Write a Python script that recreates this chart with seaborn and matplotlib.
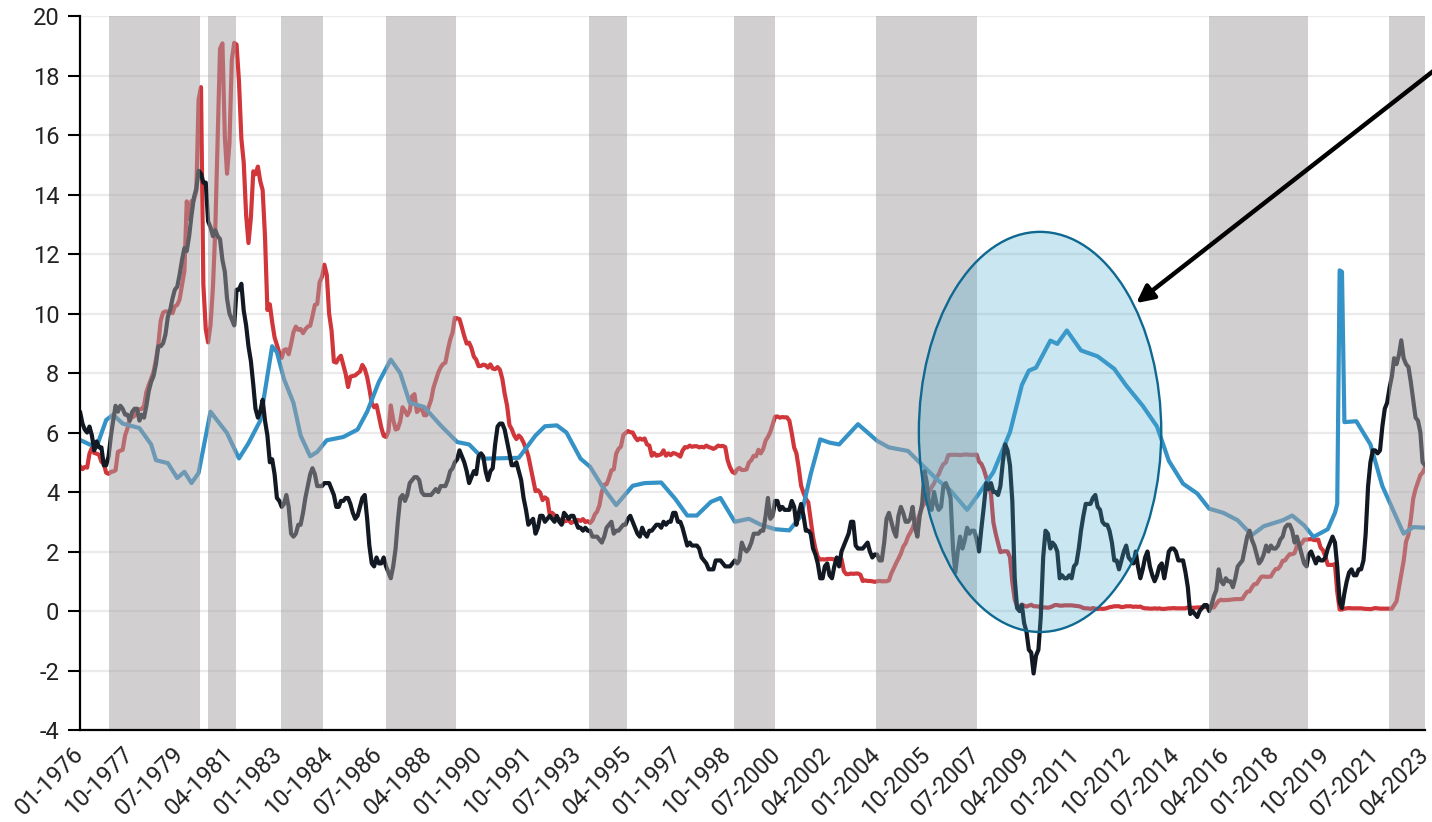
import pandas as pd
import matplotlib
matplotlib.use("Agg")
import matplotlib.pyplot as plt
import matplotlib.dates as mdates
from matplotlib.patches import Ellipse
import seaborn as sns

# -------------------------------
# 1. Data (monthly, 01-1976 .. 04-2023)
# -------------------------------
first_month = "1976-01"
last_month = "2023-04"

# effective fed funds rate (red)
fed_funds = [
    4.87, 4.77, 4.84, 4.82, 5.29, 5.48, 5.31, 5.29, 5.25, 5.02, 4.95, 4.65,  # 1976
    4.61, 4.68, 4.69, 4.73, 5.35, 5.39, 5.42, 5.90, 6.14, 6.47, 6.51, 6.56,  # 1977
    6.70, 6.78, 6.79, 6.89, 7.36, 7.60, 7.81, 8.04, 8.45, 8.96, 9.76, 10.03,  # 1978
    10.07, 10.06, 10.09, 10.01, 10.24, 10.29, 10.47, 10.94, 11.43, 13.77, 13.18, 13.78,  # 1979
    13.82, 14.13, 17.19, 17.61, 10.98, 9.47, 9.03, 9.61, 10.87, 12.81, 15.85, 18.90,  # 1980
    19.08, 15.93, 14.70, 15.72, 18.52, 19.10, 19.04, 17.82, 15.87, 15.08, 13.31, 12.37,  # 1981
    13.22, 14.78, 14.68, 14.94, 14.45, 14.15, 12.59, 10.12, 10.31, 9.71, 9.20, 8.95,  # 1982
    8.68, 8.51, 8.77, 8.80, 8.63, 8.98, 9.37, 9.56, 9.45, 9.48, 9.34, 9.47,  # 1983
    9.56, 9.59, 9.91, 10.29, 10.32, 11.06, 11.23, 11.64, 11.30, 9.99, 9.43, 8.38,  # 1984
    8.35, 8.50, 8.58, 8.27, 7.97, 7.53, 7.88, 7.90, 7.92, 7.99, 8.05, 8.27,  # 1985
    8.14, 7.86, 7.48, 6.99, 6.85, 6.92, 6.56, 6.17, 5.89, 5.85, 6.04, 6.91,  # 1986
    6.43, 6.10, 6.13, 6.37, 6.85, 6.73, 6.58, 6.73, 7.22, 7.29, 6.69, 6.77,  # 1987
    6.83, 6.58, 6.58, 6.87, 7.09, 7.51, 7.75, 8.01, 8.19, 8.30, 8.35, 8.76,  # 1988
    9.12, 9.36, 9.85, 9.84, 9.81, 9.53, 9.24, 8.99, 9.02, 8.84, 8.55, 8.45,  # 1989
    8.23, 8.24, 8.28, 8.26, 8.18, 8.29, 8.15, 8.13, 8.20, 8.11, 7.81, 7.31,  # 1990
    6.91, 6.25, 6.12, 5.91, 5.78, 5.90, 5.82, 5.66, 5.45, 5.21, 4.81, 4.43,  # 1991
    4.03, 4.06, 3.98, 3.73, 3.82, 3.76, 3.25, 3.30, 3.22, 3.10, 3.09, 2.92,  # 1992
    3.02, 3.03, 3.07, 2.96, 3.00, 3.04, 3.06, 3.03, 3.09, 2.99, 3.02, 2.96,  # 1993
    3.05, 3.25, 3.34, 3.56, 4.01, 4.25, 4.26, 4.47, 4.73, 4.76, 5.29, 5.45,  # 1994
    5.53, 5.92, 5.98, 6.05, 6.01, 6.00, 5.85, 5.74, 5.80, 5.76, 5.80, 5.60,  # 1995
    5.56, 5.22, 5.31, 5.22, 5.24, 5.27, 5.40, 5.22, 5.30, 5.24, 5.31, 5.29,  # 1996
    5.25, 5.19, 5.39, 5.51, 5.50, 5.56, 5.52, 5.54, 5.54, 5.50, 5.52, 5.50,  # 1997
    5.56, 5.51, 5.49, 5.45, 5.49, 5.56, 5.54, 5.55, 5.51, 5.07, 4.83, 4.68,  # 1998
    4.63, 4.76, 4.81, 4.74, 4.74, 4.76, 4.99, 5.07, 5.22, 5.20, 5.42, 5.30,  # 1999
    5.45, 5.73, 5.85, 6.02, 6.27, 6.53, 6.54, 6.50, 6.52, 6.51, 6.51, 6.40,  # 2000
    5.98, 5.49, 5.31, 4.80, 4.21, 3.97, 3.77, 3.65, 3.07, 2.49, 2.09, 1.82,  # 2001
    1.73, 1.74, 1.73, 1.75, 1.75, 1.75, 1.73, 1.74, 1.75, 1.75, 1.34, 1.24,  # 2002
    1.24, 1.26, 1.25, 1.26, 1.26, 1.22, 1.01, 1.03, 1.01, 1.01, 1.00, 0.98,  # 2003
    1.00, 1.01, 1.00, 1.00, 1.00, 1.03, 1.26, 1.43, 1.61, 1.76, 1.93, 2.16,  # 2004
    2.28, 2.50, 2.63, 2.79, 3.00, 3.04, 3.26, 3.50, 3.62, 3.78, 4.00, 4.16,  # 2005
    4.29, 4.49, 4.59, 4.79, 4.94, 4.99, 5.24, 5.25, 5.25, 5.25, 5.25, 5.24,  # 2006
    5.25, 5.26, 5.26, 5.25, 5.25, 5.25, 5.26, 5.02, 4.94, 4.76, 4.49, 4.24,  # 2007
    3.94, 2.98, 2.61, 2.28, 1.98, 2.00, 2.01, 2.00, 1.81, 0.97, 0.39, 0.16,  # 2008
    0.15, 0.22, 0.18, 0.15, 0.18, 0.21, 0.16, 0.16, 0.15, 0.12, 0.12, 0.12,  # 2009
    0.11, 0.13, 0.16, 0.20, 0.20, 0.18, 0.18, 0.19, 0.19, 0.19, 0.19, 0.18,  # 2010
    0.17, 0.16, 0.14, 0.10, 0.09, 0.09, 0.07, 0.10, 0.08, 0.07, 0.08, 0.07,  # 2011
    0.08, 0.10, 0.13, 0.14, 0.16, 0.16, 0.16, 0.13, 0.14, 0.16, 0.16, 0.16,  # 2012
    0.14, 0.15, 0.14, 0.15, 0.11, 0.09, 0.09, 0.08, 0.08, 0.09, 0.08, 0.09,  # 2013
    0.07, 0.07, 0.08, 0.09, 0.09, 0.10, 0.09, 0.09, 0.09, 0.09, 0.09, 0.12,  # 2014
    0.11, 0.11, 0.11, 0.12, 0.12, 0.13, 0.13, 0.14, 0.14, 0.12, 0.12, 0.24,  # 2015
    0.34, 0.38, 0.36, 0.37, 0.37, 0.38, 0.39, 0.40, 0.40, 0.40, 0.41, 0.54,  # 2016
    0.65, 0.66, 0.79, 0.90, 0.91, 1.04, 1.15, 1.16, 1.15, 1.15, 1.16, 1.30,  # 2017
    1.41, 1.42, 1.51, 1.69, 1.70, 1.82, 1.91, 1.91, 1.95, 2.19, 2.20, 2.27,  # 2018
    2.40, 2.40, 2.41, 2.42, 2.39, 2.38, 2.40, 2.13, 2.04, 1.83, 1.55, 1.55,  # 2019
    1.55, 1.58, 0.65, 0.05, 0.05, 0.08, 0.09, 0.10, 0.09, 0.09, 0.09, 0.09,  # 2020
    0.09, 0.08, 0.07, 0.07, 0.06, 0.08, 0.10, 0.09, 0.08, 0.08, 0.08, 0.08,  # 2021
    0.08, 0.08, 0.20, 0.33, 0.77, 1.21, 1.68, 2.33, 2.56, 3.08, 3.78, 4.10,  # 2022
    4.33, 4.57, 4.65, 4.83,  # 2023
]

# CPI, year over year (black)
cpi_yoy = [
    6.7, 6.3, 6.1, 6.0, 6.2, 5.9, 5.4, 5.7, 5.5, 5.5, 4.9, 4.9,  # 1976
    5.2, 5.9, 6.4, 6.9, 6.7, 6.9, 6.8, 6.6, 6.6, 6.4, 6.7, 6.8,  # 1977
    6.8, 6.4, 6.6, 6.5, 6.9, 7.4, 7.7, 7.9, 8.3, 8.9, 8.9, 9.0,  # 1978
    9.3, 9.9, 10.1, 10.5, 10.8, 10.9, 11.3, 11.8, 12.2, 12.1, 12.6, 13.3,  # 1979
    13.9, 14.2, 14.8, 14.7, 14.4, 14.4, 13.1, 12.9, 12.6, 12.8, 12.6, 12.5,  # 1980
    11.8, 11.4, 10.5, 10.0, 9.8, 9.6, 10.8, 10.8, 11.0, 10.1, 9.6, 8.9,  # 1981
    8.4, 7.6, 6.8, 6.5, 6.7, 7.1, 6.4, 5.9, 5.0, 5.1, 4.6, 3.8,  # 1982
    3.7, 3.5, 3.6, 3.9, 3.5, 2.6, 2.5, 2.6, 2.9, 2.9, 3.3, 3.8,  # 1983
    4.2, 4.6, 4.8, 4.6, 4.2, 4.2, 4.2, 4.3, 4.3, 4.3, 4.1, 3.9,  # 1984
    3.5, 3.5, 3.7, 3.7, 3.8, 3.8, 3.6, 3.3, 3.1, 3.2, 3.5, 3.8,  # 1985
    3.9, 3.1, 2.2, 1.6, 1.5, 1.8, 1.6, 1.6, 1.8, 1.5, 1.3, 1.1,  # 1986
    1.5, 2.1, 3.0, 3.8, 3.9, 3.7, 3.9, 4.3, 4.4, 4.5, 4.5, 4.4,  # 1987
    4.0, 3.9, 3.9, 3.9, 3.9, 4.0, 4.1, 4.0, 4.2, 4.2, 4.2, 4.4,  # 1988
    4.7, 4.8, 5.0, 5.1, 5.4, 5.2, 5.0, 4.7, 4.3, 4.5, 4.7, 4.6,  # 1989
    5.2, 5.3, 5.2, 4.7, 4.4, 4.7, 4.8, 5.6, 6.2, 6.3, 6.3, 6.1,  # 1990
    5.7, 5.3, 4.9, 4.9, 5.0, 4.7, 4.4, 3.8, 3.4, 2.9, 3.0, 3.1,  # 1991
    2.6, 2.8, 3.2, 3.2, 3.0, 3.1, 3.2, 3.1, 3.0, 3.2, 3.0, 2.9,  # 1992
    3.3, 3.2, 3.1, 3.2, 3.2, 3.0, 2.8, 2.8, 2.7, 2.8, 2.7, 2.7,  # 1993
    2.5, 2.5, 2.5, 2.4, 2.3, 2.5, 2.8, 2.9, 3.0, 2.6, 2.7, 2.7,  # 1994
    2.8, 2.9, 2.9, 3.1, 3.2, 3.0, 2.8, 2.6, 2.5, 2.8, 2.6, 2.5,  # 1995
    2.7, 2.7, 2.8, 2.9, 2.9, 2.8, 3.0, 2.9, 3.0, 3.0, 3.3, 3.3,  # 1996
    3.0, 3.0, 2.8, 2.5, 2.2, 2.3, 2.2, 2.2, 2.2, 2.1, 1.8, 1.7,  # 1997
    1.6, 1.4, 1.4, 1.4, 1.7, 1.7, 1.7, 1.6, 1.5, 1.5, 1.5, 1.6,  # 1998
    1.7, 1.6, 1.7, 2.3, 2.1, 2.0, 2.1, 2.3, 2.6, 2.6, 2.6, 2.7,  # 1999
    2.7, 3.2, 3.8, 3.1, 3.2, 3.7, 3.7, 3.4, 3.5, 3.4, 3.4, 3.4,  # 2000
    3.7, 3.5, 2.9, 3.3, 3.6, 3.2, 2.7, 2.7, 2.6, 2.1, 1.9, 1.6,  # 2001
    1.1, 1.1, 1.5, 1.6, 1.2, 1.1, 1.5, 1.8, 1.5, 2.0, 2.2, 2.4,  # 2002
    2.6, 3.0, 3.0, 2.2, 2.1, 2.1, 2.1, 2.2, 2.3, 2.0, 1.8, 1.9,  # 2003
    1.9, 1.7, 1.7, 2.3, 3.1, 3.3, 3.0, 2.7, 2.5, 3.2, 3.5, 3.3,  # 2004
    3.0, 3.0, 3.1, 3.5, 2.8, 2.5, 3.2, 3.6, 4.7, 4.3, 3.5, 3.4,  # 2005
    4.0, 3.6, 3.4, 3.5, 4.2, 4.3, 4.1, 3.8, 2.1, 1.3, 2.0, 2.5,  # 2006
    2.1, 2.4, 2.8, 2.6, 2.7, 2.7, 2.4, 2.0, 2.8, 3.5, 4.3, 4.1,  # 2007
    4.3, 4.0, 4.0, 3.9, 4.2, 5.0, 5.6, 5.4, 4.9, 3.7, 1.1, 0.1,  # 2008
    0.0, 0.2, -0.4, -0.7, -1.3, -1.4, -2.1, -1.5, -1.3, -0.2, 1.8, 2.7,  # 2009
    2.6, 2.1, 2.3, 2.2, 2.0, 1.1, 1.2, 1.1, 1.1, 1.2, 1.1, 1.5,  # 2010
    1.6, 2.1, 2.7, 3.2, 3.6, 3.6, 3.6, 3.8, 3.9, 3.5, 3.4, 3.0,  # 2011
    2.9, 2.9, 2.7, 2.3, 1.7, 1.7, 1.4, 1.7, 2.0, 2.2, 1.8, 1.7,  # 2012
    1.6, 2.0, 1.5, 1.1, 1.4, 1.8, 2.0, 1.5, 1.2, 1.0, 1.2, 1.5,  # 2013
    1.6, 1.1, 1.5, 2.0, 2.1, 2.1, 2.0, 1.7, 1.7, 1.7, 1.3, 0.8,  # 2014
    -0.1, 0.0, -0.1, -0.2, 0.0, 0.1, 0.2, 0.2, 0.0, 0.2, 0.5, 0.7,  # 2015
    1.4, 1.0, 0.9, 1.1, 1.0, 1.0, 0.8, 1.1, 1.5, 1.6, 1.7, 2.1,  # 2016
    2.5, 2.7, 2.4, 2.2, 1.9, 1.6, 1.7, 1.9, 2.2, 2.0, 2.2, 2.1,  # 2017
    2.1, 2.2, 2.4, 2.5, 2.8, 2.9, 2.9, 2.7, 2.3, 2.5, 2.2, 1.9,  # 2018
    1.6, 1.5, 1.9, 2.0, 1.8, 1.6, 1.8, 1.7, 1.7, 1.8, 2.1, 2.3,  # 2019
    2.5, 2.3, 1.5, 0.3, 0.1, 0.6, 1.0, 1.3, 1.4, 1.2, 1.2, 1.4,  # 2020
    1.4, 1.7, 2.6, 4.2, 5.0, 5.4, 5.4, 5.3, 5.4, 6.2, 6.8, 7.0,  # 2021
    7.5, 7.9, 8.5, 8.3, 8.6, 9.1, 8.5, 8.3, 8.2, 7.7, 7.1, 6.5,  # 2022
    6.4, 6.0, 5.0, 4.9,  # 2023
]

# unemployment measure (blue) at its turning points
unemp_months = [
    "1976-01", "1976-05", "1976-08", "1976-12", "1977-03", "1977-07", "1978-02", "1978-07",
    "1978-09", "1979-02", "1979-06", "1979-09", "1979-12", "1980-03", "1980-08", "1981-03",
    "1981-08", "1981-12", "1982-05", "1982-10", "1982-12", "1983-03", "1983-07", "1983-10",
    "1984-02", "1984-05", "1984-09", "1985-04", "1985-10", "1986-02", "1986-07", "1986-12",
    "1987-04", "1987-08", "1988-02", "1988-09", "1989-04", "1989-09", "1990-03", "1991-06",
    "1992-01", "1992-05", "1992-10", "1993-02", "1993-08", "1993-12", "1994-05", "1994-11",
    "1995-06", "1995-11", "1996-06", "1996-12", "1997-05", "1997-09", "1998-03", "1998-07",
    "1999-01", "1999-07", "1999-12", "2000-06", "2000-12", "2001-05", "2001-09", "2002-01",
    "2002-05", "2002-09", "2003-05", "2003-09", "2004-01", "2004-06", "2005-02", "2005-07",
    "2006-02", "2006-08", "2007-03", "2007-08", "2008-02", "2008-09", "2009-02", "2009-05",
    "2009-08", "2010-02", "2010-05", "2010-09", "2011-03", "2011-10", "2012-05", "2012-10",
    "2013-05", "2013-11", "2014-04", "2014-10", "2015-04", "2015-09", "2016-03", "2016-09",
    "2017-03", "2017-08", "2018-04", "2018-08", "2019-01", "2019-05", "2019-11", "2020-02",
    "2020-03", "2020-04", "2020-05", "2020-06", "2020-11", "2021-05", "2021-10", "2022-07",
    "2022-11", "2023-04",
]
unemp_values = [
    5.75, 5.6, 5.52, 6.42, 6.6, 6.3, 6.15, 5.6,
    5.07, 4.97, 4.47, 4.68, 4.3, 4.64, 6.7, 5.98,
    5.13, 5.64, 6.4, 8.9, 8.7, 7.8, 7.0, 5.9,
    5.2, 5.35, 5.74, 5.85, 6.1, 6.7, 7.7, 8.45,
    8.0, 7.0, 6.86, 6.24, 5.68, 5.6, 5.12, 5.15,
    5.9, 6.21, 6.24, 6.0, 5.12, 4.85, 4.21, 3.56,
    4.21, 4.3, 4.32, 3.76, 3.21, 3.21, 3.67, 3.8,
    3.0, 3.1, 2.9, 2.75, 2.71, 3.2, 4.6, 5.77,
    5.66, 5.6, 6.28, 6.0, 5.72, 5.5, 5.38, 4.99,
    4.44, 4.05, 3.4, 3.95, 4.67, 6.01, 7.6, 8.08,
    8.18, 9.09, 8.98, 9.43, 8.76, 8.56, 8.14, 7.58,
    6.9, 6.2, 5.05, 4.28, 3.95, 3.44, 3.3, 3.05,
    2.55, 2.85, 3.05, 3.21, 2.88, 2.49, 2.75, 3.3,
    3.6, 11.45, 11.4, 6.35, 6.38, 5.6, 4.2, 2.6,
    2.82, 2.8,
]

# shaded periods (fed tightening)
band_starts = ["1977-01-06", "1980-07-01", "1983-01-22", "1986-10-01", "1993-11-19",
               "1998-12-22", "2003-12-19", "2015-09-01", "2021-12-28"]
band_ends = ["1980-03-19", "1981-06-25", "1984-07-13", "1989-03-16", "1995-03-19",
             "2000-06-01", "2007-07-07", "2019-02-22", "2023-04-01"]

tick_labels = ["01-1976", "10-1977", "07-1979", "04-1981", "01-1983", "10-1984", "07-1986",
               "04-1988", "01-1990", "10-1991", "07-1993", "04-1995", "01-1997", "10-1998",
               "07-2000", "04-2002", "01-2004", "10-2005", "07-2007", "04-2009", "01-2011",
               "10-2012", "07-2014", "04-2016", "01-2018", "10-2019", "07-2021", "04-2023"]

# -------------------------------
# 2. DataFrames
# -------------------------------
months = pd.date_range(first_month, last_month, freq="MS")
rates_df = pd.DataFrame({"Date": months, "FedFunds": fed_funds, "CPI": cpi_yoy})
unemp_df = pd.DataFrame({"Date": pd.to_datetime(unemp_months), "Unemp": unemp_values})

# -------------------------------
# 3. Plot
# -------------------------------
sns.set_style("white")
plt.rcParams["font.family"] = ["Roboto", "DejaVu Sans"]
plt.rcParams["axes.unicode_minus"] = False

fig = plt.figure(figsize=(14.32, 8.22), dpi=100)
ax = fig.add_axes([0.0559, 0.1119, 0.9392, 0.8686])

RED = "#d1363b"
BLUE = "#3592c6"
BLACK = "#121923"
LW = 3.0

sns.lineplot(x="Date", y="FedFunds", data=rates_df, color=RED, linewidth=LW, ax=ax, zorder=2)
sns.lineplot(x="Date", y="Unemp", data=unemp_df, color=BLUE, linewidth=LW, ax=ax, zorder=2)
sns.lineplot(x="Date", y="CPI", data=rates_df, color=BLACK, linewidth=LW, ax=ax, zorder=2)

# gray bands on top of the lines
for s, e in zip(band_starts, band_ends):
    ax.axvspan(pd.Timestamp(s), pd.Timestamp(e), color="#a5a1a3", alpha=0.5, lw=0, zorder=2.1)

# highlight ellipse + arrow
ell_center = mdates.date2num(pd.Timestamp("2009-09-22"))
ax.add_patch(Ellipse((ell_center, 6.02), width=3110, height=13.45,
                     facecolor=(72/255, 172/255, 207/255, 0.29),
                     edgecolor="#0f6890", lw=1.7, zorder=2.2))
ax.annotate("", xy=(pd.Timestamp("2013-02-07"), 10.35), xycoords="data",
            xytext=(1450, 764), textcoords="figure pixels",
            arrowprops=dict(arrowstyle="-|>", color="black", lw=3.2,
                            mutation_scale=26, shrinkA=0, shrinkB=0),
            annotation_clip=False, zorder=3)

# axes
ax.set_xlim(months[0], months[-1])
ax.set_ylim(-4, 20)
ax.set_yticks(range(-4, 21, 2))
tick_dates = pd.to_datetime(tick_labels, format="%m-%Y")
ax.set_xticks(tick_dates)
ax.set_xticklabels(tick_labels, rotation=45, ha="right", rotation_mode="anchor", va="center")
ax.set_xlabel("")
ax.set_ylabel("")
ax.grid(axis="y", color="#ebebeb", lw=1.6, zorder=0)
ax.set_axisbelow(True)
for side in ["top", "right"]:
    ax.spines[side].set_visible(False)
for side in ["left", "bottom"]:
    ax.spines[side].set_color("black")
    ax.spines[side].set_linewidth(1.6)
ax.tick_params(axis="y", length=9, width=1.5, color="black", labelsize=17, labelcolor="#222222", pad=6, left=True)
ax.tick_params(axis="x", length=0, labelsize=17, labelcolor="#222222", pad=15)

plt.savefig("out.png", dpi=100)
